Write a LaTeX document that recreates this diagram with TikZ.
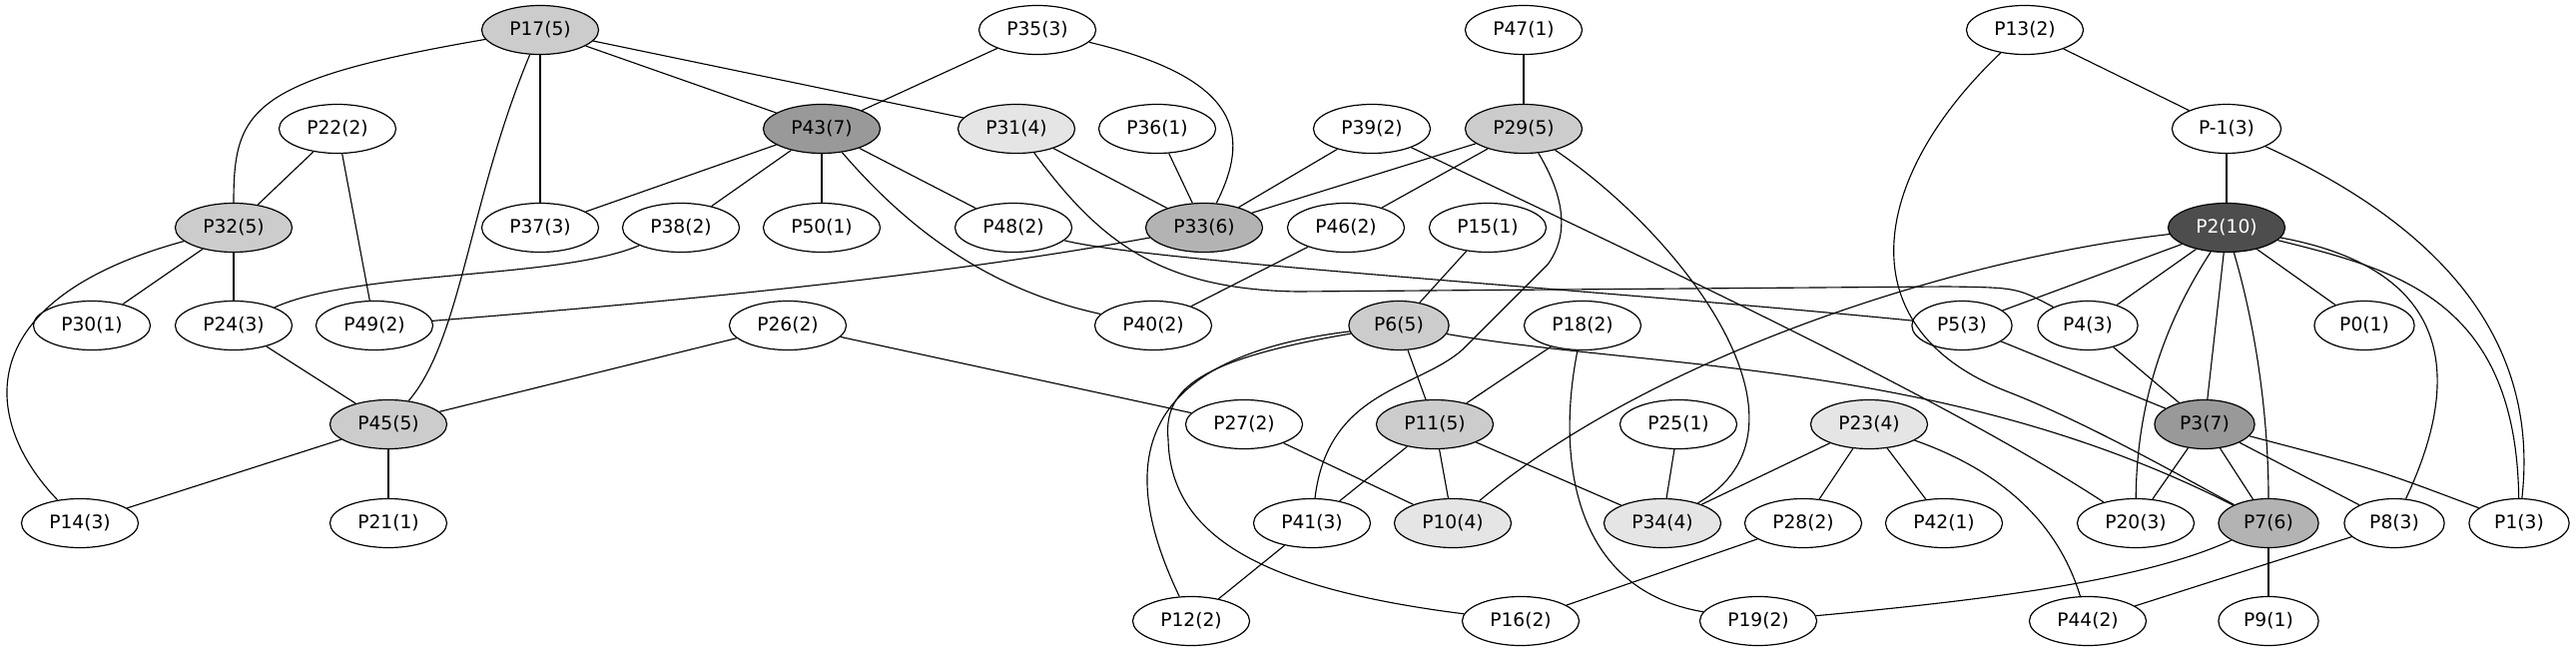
\documentclass[tikz,border=0pt]{standalone}
\usepackage{fontspec}
\setmainfont{DejaVu Sans}
\usepackage{xcolor}
\usepackage{tikz}
\usetikzlibrary{shapes.geometric}
\definecolor{gdark}{HTML}{4D4D4D}
\definecolor{gmid}{HTML}{999999}
\definecolor{glight}{HTML}{B3B3B3}
\definecolor{gpale}{HTML}{CCCCCC}
\definecolor{gfaint}{HTML}{E5E5E5}

\begin{document}
\begin{tikzpicture}[x=0.75pt,y=-0.75pt,
  pnode/.style={draw,ellipse,line width=0.9pt,fill=white,inner xsep=8pt,inner ysep=2pt,
    minimum height=36.75pt,minimum width=54pt,font=\fontsize{14}{16}\selectfont},
  link/.style={line width=0.85pt}]
\useasboundingbox (0,0) rectangle (2580,653);
\node[pnode,fill=gpale]  (p17) at (541,30)  {P17(5)};
\node[pnode]             (p35) at (1039,30) {P35(3)};
\node[pnode]             (p47) at (1526,30) {P47(1)};
\node[pnode]             (p13) at (2028,30) {P13(2)};
\node[pnode]             (p22) at (338,129) {P22(2)};
\node[pnode,fill=gmid]   (p43) at (823,129) {P43(7)};
\node[pnode,fill=gfaint] (p31) at (1018,129) {P31(4)};
\node[pnode]             (p36) at (1159,129) {P36(1)};
\node[pnode]             (p39) at (1374,129) {P39(2)};
\node[pnode,fill=gpale]  (p29) at (1526,129) {P29(5)};
\node[pnode]             (pm1) at (2230,129) {P-1(3)};
\node[pnode,fill=gpale]  (p32) at (234,228) {P32(5)};
\node[pnode]             (p37) at (541,228) {P37(3)};
\node[pnode]             (p38) at (682,228) {P38(2)};
\node[pnode]             (p50) at (823,228) {P50(1)};
\node[pnode]             (p48) at (1015,228) {P48(2)};
\node[pnode,fill=glight] (p33) at (1206,228) {P33(6)};
\node[pnode]             (p46) at (1348,228) {P46(2)};
\node[pnode]             (p15) at (1490,228) {P15(1)};
\node[pnode,fill=gdark,text=white] (p2) at (2230,228) {P2(10)};
\node[pnode]             (p30) at (92,326)  {P30(1)};
\node[pnode]             (p24) at (234,326) {P24(3)};
\node[pnode]             (p49) at (375,326) {P49(2)};
\node[pnode]             (p26) at (789,326) {P26(2)};
\node[pnode]             (p40) at (1155,326) {P40(2)};
\node[pnode,fill=gpale]  (p6)  at (1401,326) {P6(5)};
\node[pnode]             (p18) at (1585,326) {P18(2)};
\node[pnode]             (p5)  at (1965,326) {P5(3)};
\node[pnode]             (p4)  at (2091,326) {P4(3)};
\node[pnode]             (p0)  at (2368,326) {P0(1)};
\node[pnode,fill=gpale]  (p45) at (389,425) {P45(5)};
\node[pnode]             (p27) at (1246,425) {P27(2)};
\node[pnode,fill=gpale]  (p11) at (1437,425) {P11(5)};
\node[pnode]             (p25) at (1681,425) {P25(1)};
\node[pnode,fill=gfaint] (p23) at (1872,425) {P23(4)};
\node[pnode,fill=gmid]   (p3)  at (2208,425) {P3(7)};
\node[pnode]             (p14) at (80,524)  {P14(3)};
\node[pnode]             (p21) at (389,524) {P21(1)};
\node[pnode]             (p41) at (1314,524) {P41(3)};
\node[pnode,fill=gfaint] (p10) at (1455,524) {P10(4)};
\node[pnode,fill=gfaint] (p34) at (1665,524) {P34(4)};
\node[pnode]             (p28) at (1806,524) {P28(2)};
\node[pnode]             (p42) at (1947,524) {P42(1)};
\node[pnode]             (p20) at (2139,524) {P20(3)};
\node[pnode,fill=glight] (p7)  at (2272,524) {P7(6)};
\node[pnode]             (p8)  at (2398,524) {P8(3)};
\node[pnode]             (p1)  at (2523,524) {P1(3)};
\node[pnode]             (p12) at (1193,622) {P12(2)};
\node[pnode]             (p16) at (1523,622) {P16(2)};
\node[pnode]             (p19) at (1761,622) {P19(2)};
\node[pnode]             (p44) at (2091,622) {P44(2)};
\node[pnode]             (p9)  at (2272,622) {P9(1)};

\foreach \a/\b in {p17/p37,p17/p43,p17/p31,p22/p32,p22/p49,p43/p35,p43/p37,p43/p38,
  p43/p50,p43/p48,p31/p33,p36/p33,p39/p33,p29/p33,p29/p46,p29/p47,p46/p40,p15/p6,
  p6/p11,p18/p11,p26/p45,p26/p27,p27/p10,p11/p41,p11/p10,p11/p34,p25/p34,p23/p34,
  p23/p28,p23/p42,p41/p12,p28/p16,p13/pm1,pm1/p2,p2/p5,p2/p4,p2/p3,p2/p0,p5/p3,
  p4/p3,p3/p20,p3/p7,p3/p8,p7/p9,p8/p44,p32/p30,p32/p24,p24/p45,p45/p14,p45/p21}
  \draw[link] (\a) -- (\b);

\draw[link] (p17) .. controls (250,80) and (234,110) .. (p32);
\draw[link] (p17) .. controls (470,200) and (462,340) .. (p45);
\draw[link] (p32) .. controls (-30,300) and (-20,420) .. (p14);
\draw[link] (p43) .. controls (910,230) and (990,290) .. (p40);
\draw[link] (p38) .. controls (560,280) and (360,270) .. (p24);
\draw[link] (p33) .. controls (950,275) and (700,300) .. (p49);
\draw[link] (p35) .. controls (1250,80) and (1250,140) .. (p33);
\draw[link] (p31) .. controls (1100,240) and (1160,290) .. (1300,292) -- (1950,287) .. controls (2020,288) .. (p4);
\draw[link] (p48) .. controls (1150,262) and (1600,290) .. (p5);
\draw[link] (p39) .. controls (1650,260) and (1950,400) .. (p20);
\draw[link] (p29) .. controls (1575,210) and (1565,245) .. (1550,265) -- (1465,350) .. controls (1420,390) and (1330,390) .. (p41);
\draw[link] (p29) .. controls (1690,240) and (1830,430) .. (p34);
\draw[link] (p2) .. controls (1950,260) and (1650,360) .. (p10);
\draw[link] (p6) .. controls (1120,360) and (1125,480) .. (p12);
\draw[link] (p6) .. controls (1200,360) and (1165,390) .. (1170,440) .. controls (1172,540) and (1270,590) .. (p16);
\draw[link] (p6) .. controls (1650,370) and (1950,360) .. (p7);
\draw[link] (p18) .. controls (1560,450) and (1570,590) .. (p19);
\draw[link] (p13) .. controls (1870,180) and (1850,330) .. (2010,392) .. controls (2090,423) and (2190,480) .. (p7);
\draw[link] (pm1) .. controls (2430,220) and (2545,330) .. (p1);
\draw[link] (p2) .. controls (2400,270) and (2520,300) .. (p1);
\draw[link] (p2) .. controls (2430,265) and (2480,350) .. (p8);
\draw[link] (p2) .. controls (2170,320) and (2140,400) .. (p20);
\draw[link] (p2) .. controls (2260,330) and (2272,420) .. (p7);
\draw[link] (p23) .. controls (2000,470) and (2060,520) .. (p44);
\draw[link] (p7) .. controls (2150,580) and (2000,600) .. (p19);
\draw[link] (p3) .. controls (2380,470) .. (p1);
\end{tikzpicture}
\end{document}
